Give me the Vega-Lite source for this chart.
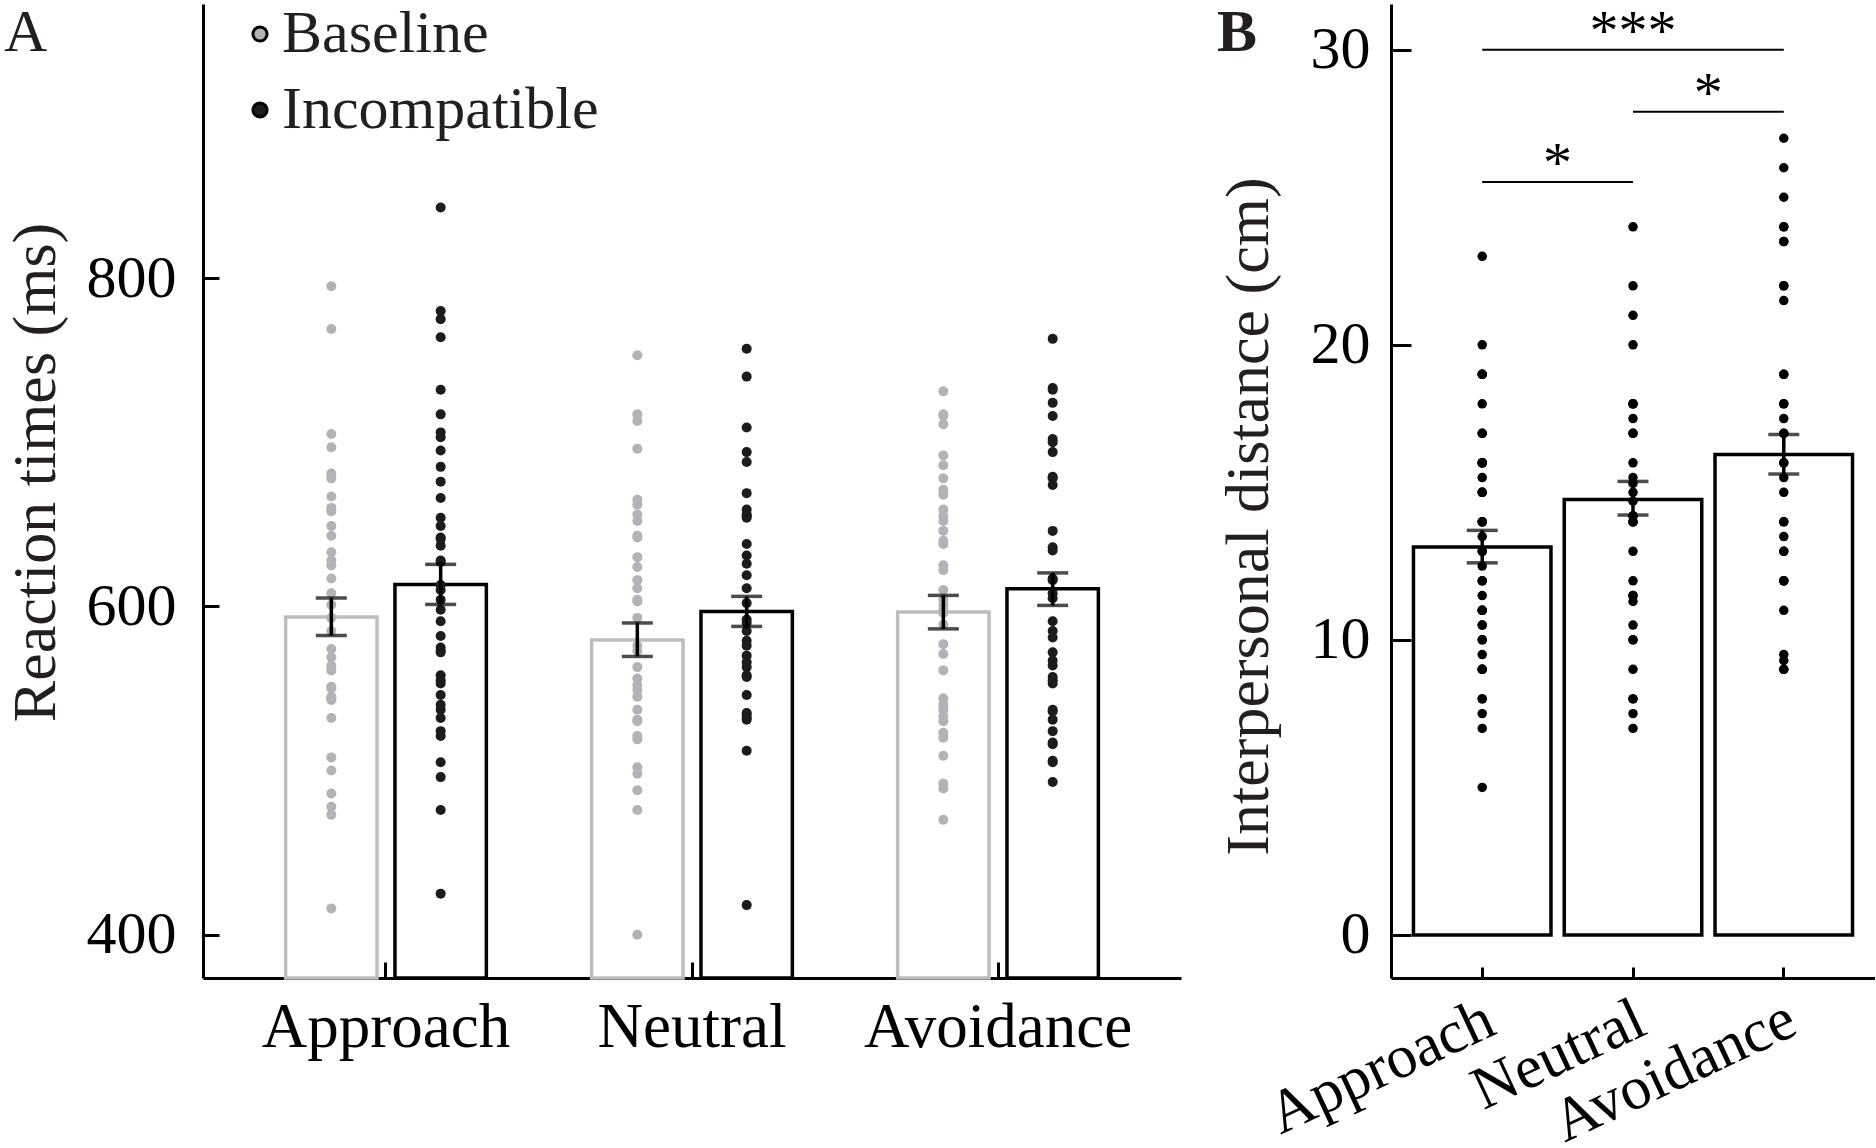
{
  "$schema": "https://vega.github.io/schema/vega-lite/v6.json",
  "background": "white",
  "padding": {"left": 4, "top": 2, "right": 0, "bottom": 0},
  "bounds": "flush",
  "spacing": 210,
  "config": {
    "view": {"stroke": null},
    "font": "Liberation Serif",
    "axis": {"labelFont": "Liberation Serif", "titleFont": "Liberation Serif", "domainColor": "black", "tickColor": "black", "labelColor": "black", "grid": false, "domainWidth": 3, "tickWidth": 3, "titleFontWeight": "normal", "titleColor": "#231f20", "labelFontSize": 60, "titleFontSize": 62, "labelLimit": 600}
  },
  "datasets": {
    "rtMeans": [
      {"emotion": "Approach", "condition": "Baseline", "mean": 593.5, "lower": 582.3, "upper": 605.1},
      {"emotion": "Approach", "condition": "Incompatible", "mean": 613.4, "lower": 601.2, "upper": 625.6},
      {"emotion": "Neutral", "condition": "Baseline", "mean": 579.5, "lower": 569.5, "upper": 589.9},
      {"emotion": "Neutral", "condition": "Incompatible", "mean": 596.9, "lower": 587.8, "upper": 606.1},
      {"emotion": "Avoidance", "condition": "Baseline", "mean": 596.6, "lower": 586.3, "upper": 606.7},
      {"emotion": "Avoidance", "condition": "Incompatible", "mean": 610.7, "lower": 600.6, "upper": 620.4}
    ],
    "rtPoints": [
      {"emotion": "Approach", "condition": "Baseline", "rt": 795},
      {"emotion": "Approach", "condition": "Baseline", "rt": 769},
      {"emotion": "Approach", "condition": "Baseline", "rt": 705},
      {"emotion": "Approach", "condition": "Baseline", "rt": 697},
      {"emotion": "Approach", "condition": "Baseline", "rt": 681},
      {"emotion": "Approach", "condition": "Baseline", "rt": 678},
      {"emotion": "Approach", "condition": "Baseline", "rt": 667},
      {"emotion": "Approach", "condition": "Baseline", "rt": 660},
      {"emotion": "Approach", "condition": "Baseline", "rt": 658},
      {"emotion": "Approach", "condition": "Baseline", "rt": 649},
      {"emotion": "Approach", "condition": "Baseline", "rt": 643},
      {"emotion": "Approach", "condition": "Baseline", "rt": 633},
      {"emotion": "Approach", "condition": "Baseline", "rt": 628},
      {"emotion": "Approach", "condition": "Baseline", "rt": 625},
      {"emotion": "Approach", "condition": "Baseline", "rt": 617},
      {"emotion": "Approach", "condition": "Baseline", "rt": 608},
      {"emotion": "Approach", "condition": "Baseline", "rt": 601},
      {"emotion": "Approach", "condition": "Baseline", "rt": 593},
      {"emotion": "Approach", "condition": "Baseline", "rt": 585},
      {"emotion": "Approach", "condition": "Baseline", "rt": 574},
      {"emotion": "Approach", "condition": "Baseline", "rt": 569},
      {"emotion": "Approach", "condition": "Baseline", "rt": 564},
      {"emotion": "Approach", "condition": "Baseline", "rt": 561},
      {"emotion": "Approach", "condition": "Baseline", "rt": 550},
      {"emotion": "Approach", "condition": "Baseline", "rt": 551},
      {"emotion": "Approach", "condition": "Baseline", "rt": 544},
      {"emotion": "Approach", "condition": "Baseline", "rt": 543},
      {"emotion": "Approach", "condition": "Baseline", "rt": 545},
      {"emotion": "Approach", "condition": "Baseline", "rt": 532},
      {"emotion": "Approach", "condition": "Baseline", "rt": 508},
      {"emotion": "Approach", "condition": "Baseline", "rt": 500},
      {"emotion": "Approach", "condition": "Baseline", "rt": 486},
      {"emotion": "Approach", "condition": "Baseline", "rt": 478},
      {"emotion": "Approach", "condition": "Baseline", "rt": 473},
      {"emotion": "Approach", "condition": "Baseline", "rt": 416},
      {"emotion": "Approach", "condition": "Incompatible", "rt": 843},
      {"emotion": "Approach", "condition": "Incompatible", "rt": 780},
      {"emotion": "Approach", "condition": "Incompatible", "rt": 775},
      {"emotion": "Approach", "condition": "Incompatible", "rt": 764},
      {"emotion": "Approach", "condition": "Incompatible", "rt": 732},
      {"emotion": "Approach", "condition": "Incompatible", "rt": 717},
      {"emotion": "Approach", "condition": "Incompatible", "rt": 706},
      {"emotion": "Approach", "condition": "Incompatible", "rt": 703},
      {"emotion": "Approach", "condition": "Incompatible", "rt": 695},
      {"emotion": "Approach", "condition": "Incompatible", "rt": 685},
      {"emotion": "Approach", "condition": "Incompatible", "rt": 676},
      {"emotion": "Approach", "condition": "Incompatible", "rt": 666},
      {"emotion": "Approach", "condition": "Incompatible", "rt": 654},
      {"emotion": "Approach", "condition": "Incompatible", "rt": 649},
      {"emotion": "Approach", "condition": "Incompatible", "rt": 642},
      {"emotion": "Approach", "condition": "Incompatible", "rt": 641},
      {"emotion": "Approach", "condition": "Incompatible", "rt": 637},
      {"emotion": "Approach", "condition": "Incompatible", "rt": 627},
      {"emotion": "Approach", "condition": "Incompatible", "rt": 628},
      {"emotion": "Approach", "condition": "Incompatible", "rt": 613},
      {"emotion": "Approach", "condition": "Incompatible", "rt": 610},
      {"emotion": "Approach", "condition": "Incompatible", "rt": 604},
      {"emotion": "Approach", "condition": "Incompatible", "rt": 598},
      {"emotion": "Approach", "condition": "Incompatible", "rt": 591},
      {"emotion": "Approach", "condition": "Incompatible", "rt": 582},
      {"emotion": "Approach", "condition": "Incompatible", "rt": 575},
      {"emotion": "Approach", "condition": "Incompatible", "rt": 573},
      {"emotion": "Approach", "condition": "Incompatible", "rt": 572},
      {"emotion": "Approach", "condition": "Incompatible", "rt": 558},
      {"emotion": "Approach", "condition": "Incompatible", "rt": 555},
      {"emotion": "Approach", "condition": "Incompatible", "rt": 553},
      {"emotion": "Approach", "condition": "Incompatible", "rt": 546},
      {"emotion": "Approach", "condition": "Incompatible", "rt": 540},
      {"emotion": "Approach", "condition": "Incompatible", "rt": 537},
      {"emotion": "Approach", "condition": "Incompatible", "rt": 532},
      {"emotion": "Approach", "condition": "Incompatible", "rt": 524},
      {"emotion": "Approach", "condition": "Incompatible", "rt": 521},
      {"emotion": "Approach", "condition": "Incompatible", "rt": 505},
      {"emotion": "Approach", "condition": "Incompatible", "rt": 496},
      {"emotion": "Approach", "condition": "Incompatible", "rt": 476},
      {"emotion": "Approach", "condition": "Incompatible", "rt": 425},
      {"emotion": "Neutral", "condition": "Baseline", "rt": 753},
      {"emotion": "Neutral", "condition": "Baseline", "rt": 717},
      {"emotion": "Neutral", "condition": "Baseline", "rt": 713},
      {"emotion": "Neutral", "condition": "Baseline", "rt": 696},
      {"emotion": "Neutral", "condition": "Baseline", "rt": 665},
      {"emotion": "Neutral", "condition": "Baseline", "rt": 662},
      {"emotion": "Neutral", "condition": "Baseline", "rt": 656},
      {"emotion": "Neutral", "condition": "Baseline", "rt": 652},
      {"emotion": "Neutral", "condition": "Baseline", "rt": 643},
      {"emotion": "Neutral", "condition": "Baseline", "rt": 642},
      {"emotion": "Neutral", "condition": "Baseline", "rt": 630},
      {"emotion": "Neutral", "condition": "Baseline", "rt": 624},
      {"emotion": "Neutral", "condition": "Baseline", "rt": 616},
      {"emotion": "Neutral", "condition": "Baseline", "rt": 611},
      {"emotion": "Neutral", "condition": "Baseline", "rt": 604},
      {"emotion": "Neutral", "condition": "Baseline", "rt": 603},
      {"emotion": "Neutral", "condition": "Baseline", "rt": 593},
      {"emotion": "Neutral", "condition": "Baseline", "rt": 576},
      {"emotion": "Neutral", "condition": "Baseline", "rt": 573},
      {"emotion": "Neutral", "condition": "Baseline", "rt": 563},
      {"emotion": "Neutral", "condition": "Baseline", "rt": 556},
      {"emotion": "Neutral", "condition": "Baseline", "rt": 552},
      {"emotion": "Neutral", "condition": "Baseline", "rt": 549},
      {"emotion": "Neutral", "condition": "Baseline", "rt": 545},
      {"emotion": "Neutral", "condition": "Baseline", "rt": 537},
      {"emotion": "Neutral", "condition": "Baseline", "rt": 531},
      {"emotion": "Neutral", "condition": "Baseline", "rt": 530},
      {"emotion": "Neutral", "condition": "Baseline", "rt": 521},
      {"emotion": "Neutral", "condition": "Baseline", "rt": 519},
      {"emotion": "Neutral", "condition": "Baseline", "rt": 502},
      {"emotion": "Neutral", "condition": "Baseline", "rt": 498},
      {"emotion": "Neutral", "condition": "Baseline", "rt": 488},
      {"emotion": "Neutral", "condition": "Baseline", "rt": 476},
      {"emotion": "Neutral", "condition": "Baseline", "rt": 400},
      {"emotion": "Neutral", "condition": "Incompatible", "rt": 757},
      {"emotion": "Neutral", "condition": "Incompatible", "rt": 740},
      {"emotion": "Neutral", "condition": "Incompatible", "rt": 709},
      {"emotion": "Neutral", "condition": "Incompatible", "rt": 694},
      {"emotion": "Neutral", "condition": "Incompatible", "rt": 688},
      {"emotion": "Neutral", "condition": "Incompatible", "rt": 669},
      {"emotion": "Neutral", "condition": "Incompatible", "rt": 659},
      {"emotion": "Neutral", "condition": "Incompatible", "rt": 655},
      {"emotion": "Neutral", "condition": "Incompatible", "rt": 656},
      {"emotion": "Neutral", "condition": "Incompatible", "rt": 654},
      {"emotion": "Neutral", "condition": "Incompatible", "rt": 638},
      {"emotion": "Neutral", "condition": "Incompatible", "rt": 631},
      {"emotion": "Neutral", "condition": "Incompatible", "rt": 626},
      {"emotion": "Neutral", "condition": "Incompatible", "rt": 619},
      {"emotion": "Neutral", "condition": "Incompatible", "rt": 611},
      {"emotion": "Neutral", "condition": "Incompatible", "rt": 602},
      {"emotion": "Neutral", "condition": "Incompatible", "rt": 592},
      {"emotion": "Neutral", "condition": "Incompatible", "rt": 590},
      {"emotion": "Neutral", "condition": "Incompatible", "rt": 585},
      {"emotion": "Neutral", "condition": "Incompatible", "rt": 579},
      {"emotion": "Neutral", "condition": "Incompatible", "rt": 576},
      {"emotion": "Neutral", "condition": "Incompatible", "rt": 570},
      {"emotion": "Neutral", "condition": "Incompatible", "rt": 566},
      {"emotion": "Neutral", "condition": "Incompatible", "rt": 563},
      {"emotion": "Neutral", "condition": "Incompatible", "rt": 558},
      {"emotion": "Neutral", "condition": "Incompatible", "rt": 557},
      {"emotion": "Neutral", "condition": "Incompatible", "rt": 546},
      {"emotion": "Neutral", "condition": "Incompatible", "rt": 535},
      {"emotion": "Neutral", "condition": "Incompatible", "rt": 534},
      {"emotion": "Neutral", "condition": "Incompatible", "rt": 532},
      {"emotion": "Neutral", "condition": "Incompatible", "rt": 531},
      {"emotion": "Neutral", "condition": "Incompatible", "rt": 512},
      {"emotion": "Neutral", "condition": "Incompatible", "rt": 418},
      {"emotion": "Avoidance", "condition": "Baseline", "rt": 731},
      {"emotion": "Avoidance", "condition": "Baseline", "rt": 717},
      {"emotion": "Avoidance", "condition": "Baseline", "rt": 716},
      {"emotion": "Avoidance", "condition": "Baseline", "rt": 711},
      {"emotion": "Avoidance", "condition": "Baseline", "rt": 692},
      {"emotion": "Avoidance", "condition": "Baseline", "rt": 686},
      {"emotion": "Avoidance", "condition": "Baseline", "rt": 678},
      {"emotion": "Avoidance", "condition": "Baseline", "rt": 671},
      {"emotion": "Avoidance", "condition": "Baseline", "rt": 668},
      {"emotion": "Avoidance", "condition": "Baseline", "rt": 659},
      {"emotion": "Avoidance", "condition": "Baseline", "rt": 655},
      {"emotion": "Avoidance", "condition": "Baseline", "rt": 652},
      {"emotion": "Avoidance", "condition": "Baseline", "rt": 646},
      {"emotion": "Avoidance", "condition": "Baseline", "rt": 640},
      {"emotion": "Avoidance", "condition": "Baseline", "rt": 638},
      {"emotion": "Avoidance", "condition": "Baseline", "rt": 625},
      {"emotion": "Avoidance", "condition": "Baseline", "rt": 622},
      {"emotion": "Avoidance", "condition": "Baseline", "rt": 610},
      {"emotion": "Avoidance", "condition": "Baseline", "rt": 604},
      {"emotion": "Avoidance", "condition": "Baseline", "rt": 601},
      {"emotion": "Avoidance", "condition": "Baseline", "rt": 598},
      {"emotion": "Avoidance", "condition": "Baseline", "rt": 596},
      {"emotion": "Avoidance", "condition": "Baseline", "rt": 589},
      {"emotion": "Avoidance", "condition": "Baseline", "rt": 577},
      {"emotion": "Avoidance", "condition": "Baseline", "rt": 571},
      {"emotion": "Avoidance", "condition": "Baseline", "rt": 561},
      {"emotion": "Avoidance", "condition": "Baseline", "rt": 544},
      {"emotion": "Avoidance", "condition": "Baseline", "rt": 540},
      {"emotion": "Avoidance", "condition": "Baseline", "rt": 537},
      {"emotion": "Avoidance", "condition": "Baseline", "rt": 533},
      {"emotion": "Avoidance", "condition": "Baseline", "rt": 530},
      {"emotion": "Avoidance", "condition": "Baseline", "rt": 523},
      {"emotion": "Avoidance", "condition": "Baseline", "rt": 520},
      {"emotion": "Avoidance", "condition": "Baseline", "rt": 509},
      {"emotion": "Avoidance", "condition": "Baseline", "rt": 492},
      {"emotion": "Avoidance", "condition": "Baseline", "rt": 489},
      {"emotion": "Avoidance", "condition": "Baseline", "rt": 470},
      {"emotion": "Avoidance", "condition": "Incompatible", "rt": 763},
      {"emotion": "Avoidance", "condition": "Incompatible", "rt": 733},
      {"emotion": "Avoidance", "condition": "Incompatible", "rt": 732},
      {"emotion": "Avoidance", "condition": "Incompatible", "rt": 724},
      {"emotion": "Avoidance", "condition": "Incompatible", "rt": 716},
      {"emotion": "Avoidance", "condition": "Incompatible", "rt": 702},
      {"emotion": "Avoidance", "condition": "Incompatible", "rt": 700},
      {"emotion": "Avoidance", "condition": "Incompatible", "rt": 694},
      {"emotion": "Avoidance", "condition": "Incompatible", "rt": 679},
      {"emotion": "Avoidance", "condition": "Incompatible", "rt": 678},
      {"emotion": "Avoidance", "condition": "Incompatible", "rt": 674},
      {"emotion": "Avoidance", "condition": "Incompatible", "rt": 646},
      {"emotion": "Avoidance", "condition": "Incompatible", "rt": 636},
      {"emotion": "Avoidance", "condition": "Incompatible", "rt": 634},
      {"emotion": "Avoidance", "condition": "Incompatible", "rt": 617},
      {"emotion": "Avoidance", "condition": "Incompatible", "rt": 616},
      {"emotion": "Avoidance", "condition": "Incompatible", "rt": 608},
      {"emotion": "Avoidance", "condition": "Incompatible", "rt": 605},
      {"emotion": "Avoidance", "condition": "Incompatible", "rt": 591},
      {"emotion": "Avoidance", "condition": "Incompatible", "rt": 585},
      {"emotion": "Avoidance", "condition": "Incompatible", "rt": 581},
      {"emotion": "Avoidance", "condition": "Incompatible", "rt": 572},
      {"emotion": "Avoidance", "condition": "Incompatible", "rt": 567},
      {"emotion": "Avoidance", "condition": "Incompatible", "rt": 564},
      {"emotion": "Avoidance", "condition": "Incompatible", "rt": 557},
      {"emotion": "Avoidance", "condition": "Incompatible", "rt": 555},
      {"emotion": "Avoidance", "condition": "Incompatible", "rt": 553},
      {"emotion": "Avoidance", "condition": "Incompatible", "rt": 537},
      {"emotion": "Avoidance", "condition": "Incompatible", "rt": 536},
      {"emotion": "Avoidance", "condition": "Incompatible", "rt": 531},
      {"emotion": "Avoidance", "condition": "Incompatible", "rt": 524},
      {"emotion": "Avoidance", "condition": "Incompatible", "rt": 517},
      {"emotion": "Avoidance", "condition": "Incompatible", "rt": 516},
      {"emotion": "Avoidance", "condition": "Incompatible", "rt": 506},
      {"emotion": "Avoidance", "condition": "Incompatible", "rt": 505},
      {"emotion": "Avoidance", "condition": "Incompatible", "rt": 493}
    ],
    "idMeans": [
      {"emotion": "Approach", "mean": 13.15, "lower": 12.61, "upper": 13.71},
      {"emotion": "Neutral", "mean": 14.76, "lower": 14.23, "upper": 15.37},
      {"emotion": "Avoidance", "mean": 16.28, "lower": 15.62, "upper": 16.96}
    ],
    "idPoints": [
      {"emotion": "Approach", "distance": 23}, {"emotion": "Approach", "distance": 20}, {"emotion": "Approach", "distance": 19}, {"emotion": "Approach", "distance": 19}, {"emotion": "Approach", "distance": 19}, {"emotion": "Approach", "distance": 18}, {"emotion": "Approach", "distance": 17}, {"emotion": "Approach", "distance": 17}, {"emotion": "Approach", "distance": 16}, {"emotion": "Approach", "distance": 16}, {"emotion": "Approach", "distance": 16}, {"emotion": "Approach", "distance": 16}, {"emotion": "Approach", "distance": 15.5}, {"emotion": "Approach", "distance": 15}, {"emotion": "Approach", "distance": 15}, {"emotion": "Approach", "distance": 15}, {"emotion": "Approach", "distance": 14}, {"emotion": "Approach", "distance": 14}, {"emotion": "Approach", "distance": 14}, {"emotion": "Approach", "distance": 13.5}, {"emotion": "Approach", "distance": 13}, {"emotion": "Approach", "distance": 13}, {"emotion": "Approach", "distance": 12.5}, {"emotion": "Approach", "distance": 12}, {"emotion": "Approach", "distance": 12}, {"emotion": "Approach", "distance": 11.5}, {"emotion": "Approach", "distance": 11}, {"emotion": "Approach", "distance": 11}, {"emotion": "Approach", "distance": 11}, {"emotion": "Approach", "distance": 10.5}, {"emotion": "Approach", "distance": 10.5}, {"emotion": "Approach", "distance": 10}, {"emotion": "Approach", "distance": 10}, {"emotion": "Approach", "distance": 9.5}, {"emotion": "Approach", "distance": 9}, {"emotion": "Approach", "distance": 9}, {"emotion": "Approach", "distance": 9}, {"emotion": "Approach", "distance": 8}, {"emotion": "Approach", "distance": 8}, {"emotion": "Approach", "distance": 7.5}, {"emotion": "Approach", "distance": 7}, {"emotion": "Approach", "distance": 5},
      {"emotion": "Neutral", "distance": 24}, {"emotion": "Neutral", "distance": 22}, {"emotion": "Neutral", "distance": 21}, {"emotion": "Neutral", "distance": 20}, {"emotion": "Neutral", "distance": 18}, {"emotion": "Neutral", "distance": 18}, {"emotion": "Neutral", "distance": 18}, {"emotion": "Neutral", "distance": 17.5}, {"emotion": "Neutral", "distance": 17}, {"emotion": "Neutral", "distance": 17}, {"emotion": "Neutral", "distance": 16}, {"emotion": "Neutral", "distance": 15.5}, {"emotion": "Neutral", "distance": 15.3}, {"emotion": "Neutral", "distance": 15}, {"emotion": "Neutral", "distance": 14.7}, {"emotion": "Neutral", "distance": 14.2}, {"emotion": "Neutral", "distance": 14.2}, {"emotion": "Neutral", "distance": 14}, {"emotion": "Neutral", "distance": 14}, {"emotion": "Neutral", "distance": 14}, {"emotion": "Neutral", "distance": 13}, {"emotion": "Neutral", "distance": 12}, {"emotion": "Neutral", "distance": 11.5}, {"emotion": "Neutral", "distance": 11.5}, {"emotion": "Neutral", "distance": 11.3}, {"emotion": "Neutral", "distance": 10.5}, {"emotion": "Neutral", "distance": 10}, {"emotion": "Neutral", "distance": 10}, {"emotion": "Neutral", "distance": 9}, {"emotion": "Neutral", "distance": 8}, {"emotion": "Neutral", "distance": 8}, {"emotion": "Neutral", "distance": 7.5}, {"emotion": "Neutral", "distance": 7},
      {"emotion": "Avoidance", "distance": 27}, {"emotion": "Avoidance", "distance": 26}, {"emotion": "Avoidance", "distance": 25}, {"emotion": "Avoidance", "distance": 24}, {"emotion": "Avoidance", "distance": 24}, {"emotion": "Avoidance", "distance": 23.5}, {"emotion": "Avoidance", "distance": 23.5}, {"emotion": "Avoidance", "distance": 22}, {"emotion": "Avoidance", "distance": 22}, {"emotion": "Avoidance", "distance": 21.5}, {"emotion": "Avoidance", "distance": 19}, {"emotion": "Avoidance", "distance": 19}, {"emotion": "Avoidance", "distance": 18}, {"emotion": "Avoidance", "distance": 18}, {"emotion": "Avoidance", "distance": 17.5}, {"emotion": "Avoidance", "distance": 17}, {"emotion": "Avoidance", "distance": 17}, {"emotion": "Avoidance", "distance": 16}, {"emotion": "Avoidance", "distance": 16}, {"emotion": "Avoidance", "distance": 15.5}, {"emotion": "Avoidance", "distance": 15}, {"emotion": "Avoidance", "distance": 14}, {"emotion": "Avoidance", "distance": 14}, {"emotion": "Avoidance", "distance": 13.5}, {"emotion": "Avoidance", "distance": 13}, {"emotion": "Avoidance", "distance": 13}, {"emotion": "Avoidance", "distance": 12}, {"emotion": "Avoidance", "distance": 12}, {"emotion": "Avoidance", "distance": 12}, {"emotion": "Avoidance", "distance": 11}, {"emotion": "Avoidance", "distance": 9.5}, {"emotion": "Avoidance", "distance": 9.3}, {"emotion": "Avoidance", "distance": 9}, {"emotion": "Avoidance", "distance": 9}
    ],
    "sig": [
      {"from": "Approach", "to": "Avoidance", "mid": "Neutral", "level": 30, "label": "***"},
      {"from": "Neutral", "to": "Avoidance", "mid": "Neutral", "level": 27.9, "label": "*"},
      {"from": "Approach", "to": "Neutral", "mid": "Approach", "level": 25.52, "label": "*"}
    ]
  },
  "hconcat": [
    {
      "width": 978,
      "height": 974,
      "title": {"text": "A", "anchor": "start", "frame": "bounds", "fontSize": 60, "font": "Liberation Serif", "fontWeight": "normal", "color": "#231f20", "baseline": "top", "offset": -60},
      "layer": [
        {
          "data": {"name": "rtMeans"},
          "mark": {"type": "bar", "fill": "white", "strokeWidth": 3.5},
          "encoding": {
            "x": {"field": "emotion", "type": "nominal", "scale": {"domain": ["Approach", "Neutral", "Avoidance"], "paddingInner": 0.344, "paddingOuter": 0.27}, "axis": {"title": null, "labelAngle": 0, "tickSize": -16, "labelPadding": 34, "labelFontSize": 63}},
            "xOffset": {"field": "condition", "type": "nominal", "scale": {"domain": ["Baseline", "Incompatible"], "paddingInner": 0.164, "paddingOuter": 0}},
            "y": {"field": "mean", "type": "quantitative", "scale": {"domain": [373.6, 967], "zero": false, "nice": false}, "axis": {"title": "Reaction times (ms)", "values": [400, 600, 800], "tickSize": -16, "labelPadding": 43, "titlePadding": 19, "titleY": 468}},
            "y2": {"datum": 373.6},
            "stroke": {"condition": {"test": "datum.condition === 'Baseline'", "value": "#bdbdbd"}, "value": "#000000"}
          }
        },
        {
          "data": {"name": "rtPoints"},
          "mark": {"type": "circle", "size": 100, "opacity": 1},
          "encoding": {
            "x": {"field": "emotion", "type": "nominal"},
            "xOffset": {"field": "condition", "type": "nominal"},
            "y": {"field": "rt", "type": "quantitative"},
            "color": {"field": "condition", "type": "nominal", "scale": {"domain": ["Baseline", "Incompatible"], "range": ["#b3b3b7", "#1c1c1c"]}, "legend": {"title": null, "orient": "none", "legendX": 27, "legendY": 0, "padding": 0, "labelFontSize": 60, "labelFont": "Liberation Serif", "labelColor": "#231f20", "labelLimit": 800, "symbolType": "circle", "symbolSize": 200, "symbolStrokeColor": "black", "symbolStrokeWidth": 3, "symbolOpacity": 1, "rowPadding": 16, "labelOffset": -8}}
          }
        },
        {
          "data": {"name": "rtMeans"},
          "mark": {"type": "rule", "strokeWidth": 3.5, "color": "black"},
          "encoding": {
            "x": {"field": "emotion", "type": "nominal"},
            "xOffset": {"field": "condition", "type": "nominal"},
            "y": {"field": "lower", "type": "quantitative"},
            "y2": {"field": "upper"}
          }
        },
        {
          "data": {"name": "rtMeans"},
          "mark": {"type": "tick", "size": 31, "thickness": 3.5, "color": "black", "orient": "horizontal"},
          "encoding": {
            "x": {"field": "emotion", "type": "nominal"},
            "xOffset": {"field": "condition", "type": "nominal"},
            "y": {"field": "lower", "type": "quantitative"}
          }
        },
        {
          "data": {"name": "rtMeans"},
          "mark": {"type": "tick", "size": 31, "thickness": 3.5, "color": "black", "orient": "horizontal"},
          "encoding": {
            "x": {"field": "emotion", "type": "nominal"},
            "xOffset": {"field": "condition", "type": "nominal"},
            "y": {"field": "upper", "type": "quantitative"}
          }
        }
      ]
    },
    {
      "width": 484,
      "height": 974,
      "title": {"text": "B", "anchor": "start", "frame": "bounds", "fontSize": 60, "font": "Liberation Serif", "fontWeight": "bold", "color": "#231f20", "baseline": "top", "offset": -60},
      "layer": [
        {
          "data": {"name": "idMeans"},
          "mark": {"type": "bar", "fill": "white", "stroke": "black", "strokeWidth": 3.5},
          "encoding": {
            "x": {"field": "emotion", "type": "nominal", "scale": {"domain": ["Approach", "Neutral", "Avoidance"], "paddingInner": 0.088, "paddingOuter": 0.149}, "axis": {"title": null, "labelAngle": -25, "labelAlign": "right", "labelBaseline": "top", "labelOverlap": false, "tickSize": -11, "labelPadding": 22, "labelOffset": -4, "labelFontSize": 61}},
            "y": {"field": "mean", "type": "quantitative", "scale": {"domain": [-1.46, 31.55], "nice": false}, "axis": {"title": "Interpersonal distance (cm)", "values": [0, 10, 20, 30], "tickSize": -20, "labelPadding": 41, "titlePadding": 30, "titleY": 512}}
          }
        },
        {
          "data": {"name": "idPoints"},
          "mark": {"type": "circle", "size": 90, "opacity": 1, "color": "black"},
          "encoding": {
            "x": {"field": "emotion", "type": "nominal"},
            "y": {"field": "distance", "type": "quantitative"}
          }
        },
        {
          "data": {"name": "idMeans"},
          "mark": {"type": "rule", "strokeWidth": 3.5, "color": "black"},
          "encoding": {
            "x": {"field": "emotion", "type": "nominal"},
            "y": {"field": "lower", "type": "quantitative"},
            "y2": {"field": "upper"}
          }
        },
        {
          "data": {"name": "idMeans"},
          "mark": {"type": "tick", "size": 31, "thickness": 3.5, "color": "black", "orient": "horizontal"},
          "encoding": {
            "x": {"field": "emotion", "type": "nominal"},
            "y": {"field": "lower", "type": "quantitative"}
          }
        },
        {
          "data": {"name": "idMeans"},
          "mark": {"type": "tick", "size": 31, "thickness": 3.5, "color": "black", "orient": "horizontal"},
          "encoding": {
            "x": {"field": "emotion", "type": "nominal"},
            "y": {"field": "upper", "type": "quantitative"}
          }
        },
        {
          "data": {"name": "sig"},
          "mark": {"type": "rule", "strokeWidth": 2, "color": "black"},
          "encoding": {
            "x": {"field": "from", "type": "nominal", "bandPosition": 0.5},
            "x2": {"field": "to", "bandPosition": 0.5},
            "y": {"field": "level", "type": "quantitative"}
          }
        },
        {
          "data": {"name": "sig"},
          "transform": [{"filter": "datum.label === '***'"}],
          "mark": {"type": "text", "fontSize": 58, "font": "Liberation Serif", "color": "black", "baseline": "alphabetic", "align": "center"},
          "encoding": {
            "x": {"field": "mid", "type": "nominal", "bandPosition": 0.5},
            "y": {"field": "level", "type": "quantitative"},
            "text": {"field": "label"}
          }
        },
        {
          "data": {"name": "sig"},
          "transform": [{"filter": "datum.label === '*'"}],
          "mark": {"type": "text", "fontSize": 58, "font": "Liberation Serif", "color": "black", "baseline": "alphabetic", "align": "center"},
          "encoding": {
            "x": {"field": "from", "type": "nominal", "bandPosition": 1.048},
            "y": {"field": "level", "type": "quantitative"},
            "text": {"field": "label"}
          }
        }
      ]
    }
  ]
}
